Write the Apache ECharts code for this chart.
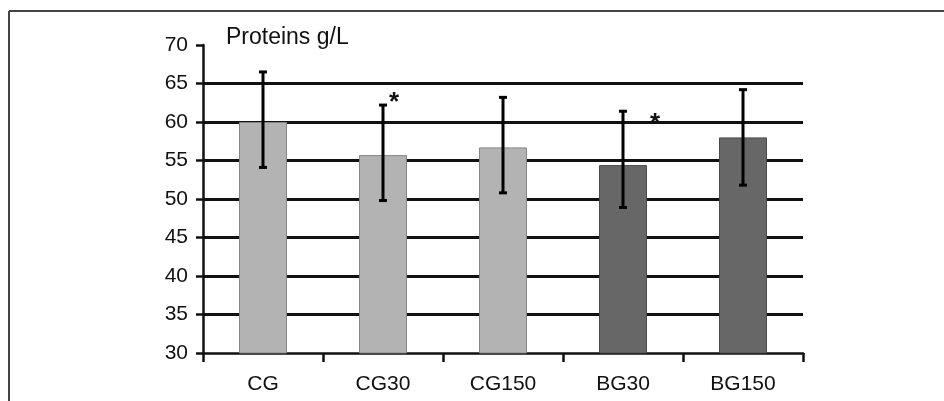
<!DOCTYPE html>
<html>
<head>
<meta charset="utf-8">
<script src="https://cdn.jsdelivr.net/npm/echarts@6/dist/echarts.min.js"></script>
<style>html,body{margin:0;padding:0;background:#fff;}#c{width:944px;height:401px;}</style>
</head>
<body>
<div id="c"></div>
<script>
const categories = ['CG', 'CG30', 'CG150', 'BG30', 'BG150'];
const means = [60.0, 55.7, 56.7, 54.4, 58.0];
const errLow = [54.1, 49.8, 50.8, 48.9, 51.8];
const errHigh = [66.5, 62.2, 63.2, 61.4, 64.2];
const sigMarks = [[1, 63.3], [3, 60.5]];
const sigOffsets = [11, 32];
const barColors = ['#b3b3b3', '#b3b3b3', '#b3b3b3', '#676767', '#676767'];
const barBorders = ['#858585', '#858585', '#858585', '#4a4a4a', '#4a4a4a'];
const yTicks = { min: 30, max: 70, interval: 5 };
const titleText = 'Proteins g/L';

const FONT = 'Liberation Sans, Arial, sans-serif';
const chart = echarts.init(document.getElementById('c'), null, { renderer: 'canvas' });
chart.setOption({
  animation: false,
  backgroundColor: '#fff',
  title: {
    text: titleText, left: 221, top: 21,
    textStyle: { fontFamily: FONT, fontSize: 23, fontWeight: 'normal', color: '#111' }
  },
  grid: { left: 203, right: 141, top: 45, bottom: 48, containLabel: false },
  xAxis: {
    type: 'category', data: categories,
    axisLine: { lineStyle: { color: '#111', width: 2.5 } },
    axisTick: { show: true, length: 9, lineStyle: { color: '#111', width: 2.5 } },
    axisLabel: { fontFamily: FONT, fontSize: 21, color: '#111', margin: 21 },
    splitLine: { show: false }
  },
  yAxis: {
    type: 'value', min: yTicks.min, max: yTicks.max, interval: yTicks.interval,
    axisLine: { show: true, lineStyle: { color: '#111', width: 2.5 } },
    axisTick: { show: true, length: 7, lineStyle: { color: '#111', width: 2.5 } },
    axisLabel: { fontFamily: FONT, fontSize: 21, color: '#111', margin: 15 },
    splitLine: { show: true, showMaxLine: false, showMinLine: false, lineStyle: { color: '#111', width: 3 } }
  },
  series: [
    {
      type: 'bar', barWidth: '40%',
      data: means.map((v, i) => ({
        value: v,
        itemStyle: { color: barColors[i], borderColor: barBorders[i], borderWidth: 1 }
      })),
      z: 2
    },
    {
      type: 'custom', z: 5,
      data: means.map((v, i) => [i, errLow[i], errHigh[i]]),
      renderItem: function (params, api) {
        const x = api.value(0);
        const lo = api.coord([x, api.value(1)]);
        const hi = api.coord([x, api.value(2)]);
        const w = 4;
        const st = { stroke: '#000', lineWidth: 3 };
        return {
          type: 'group', children: [
            { type: 'line', shape: { x1: lo[0], y1: lo[1], x2: hi[0], y2: hi[1] }, style: st },
            { type: 'line', shape: { x1: lo[0] - w, y1: lo[1], x2: lo[0] + w, y2: lo[1] }, style: st },
            { type: 'line', shape: { x1: hi[0] - w, y1: hi[1], x2: hi[0] + w, y2: hi[1] }, style: st }
          ]
        };
      }
    },
    {
      type: 'custom', z: 6,
      data: sigMarks,
      renderItem: function (params, api) {
        const p = api.coord([api.value(0), api.value(1)]);
        return {
          type: 'text',
          style: {
            text: '*', x: p[0] + sigOffsets[params.dataIndex], y: p[1] + 6,
            fill: '#111', font: 'bold 26px ' + FONT, textAlign: 'center', textVerticalAlign: 'middle'
          }
        };
      }
    }
  ],
  graphic: [
    { type: 'line', shape: { x1: 9, y1: 11, x2: 944, y2: 11 }, style: { stroke: '#444', lineWidth: 2 } },
    { type: 'line', shape: { x1: 9, y1: 11, x2: 9, y2: 401 }, style: { stroke: '#444', lineWidth: 2 } }
  ]
});
</script>
</body>
</html>
